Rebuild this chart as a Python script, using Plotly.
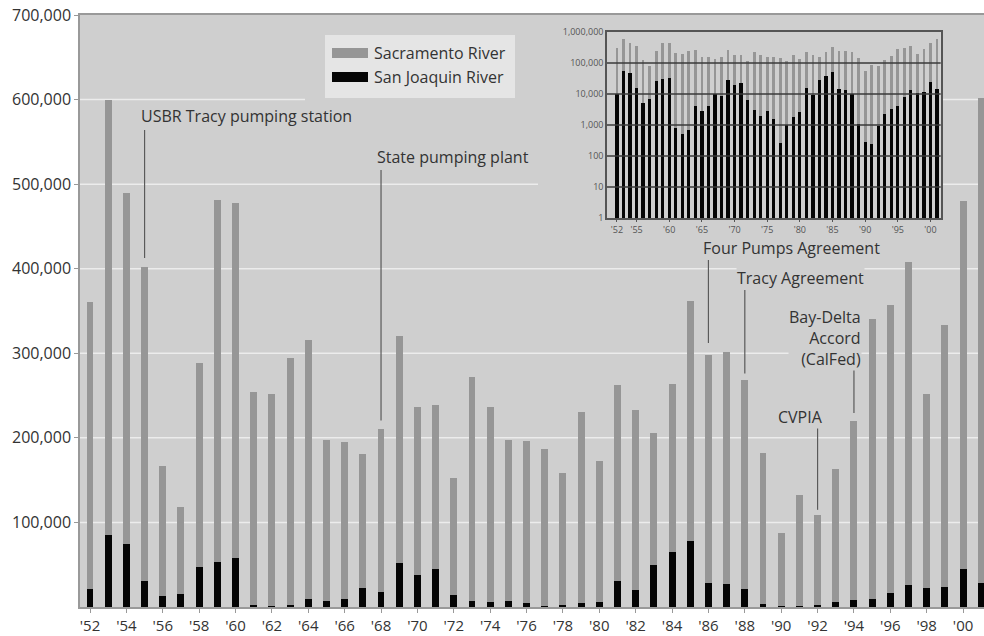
import plotly.graph_objects as go

# ---------------- data ----------------
years = list(range(1952, 2002))

sacramento = [361000, 599000, 489000, 402000, 167000, 118000, 288000, 481000, 478000, 254000,
              252000, 295000, 316000, 197000, 195000, 181000, 210000, 321000, 236000, 239000,
              153000, 272000, 236000, 197000, 196000, 187000, 159000, 230000, 173000, 263000,
              233000, 206000, 264000, 362000, 298000, 301000, 269000, 182000, 87000, 132000,
              109000, 163000, 220000, 340000, 357000, 408000, 252000, 333000, 480000, 602000]

san_joaquin = [21700, 84700, 74900, 31000, 13000, 15000, 47000, 53000, 57500, 1800,
               600, 1500, 10000, 7000, 9000, 22500, 18000, 51600, 37400, 44500,
               13800, 7000, 5500, 7000, 4300, 300, 2400, 4300, 6000, 30700,
               20000, 49700, 64600, 78000, 28000, 26800, 20900, 3500, 300, 250,
               2400, 6000, 8300, 9500, 16000, 26000, 22000, 24000, 44500, 28700]

# values as drawn in the log-scale inset
sacramento_inset = [305000, 590000, 440000, 365000, 128000, 78000, 240000, 430000, 430000, 205000,
                    200000, 240000, 263000, 152000, 152000, 134000, 152000, 270000, 180000, 180000,
                    113000, 220000, 180000, 152000, 152000, 140000, 113000, 180000, 134000, 220000,
                    180000, 152000, 220000, 318000, 248000, 248000, 220000, 140000, 56000, 86000,
                    78000, 125000, 172000, 280000, 295000, 365000, 196000, 280000, 430000, 590000]

san_joaquin_inset = [10000, 54000, 46000, 16000, 5100, 6900, 27000, 30000, 34000, 790,
                     500, 710, 4200, 2900, 4000, 10000, 8400, 29000, 19000, 23000,
                     6200, 3000, 2000, 2900, 1600, 270, 1000, 1800, 2700, 16000,
                     9500, 28000, 39000, 50000, 14500, 13500, 10000, 1080, 285, 240,
                     950, 2300, 3400, 4000, 7800, 13500, 10500, 12000, 24000, 14500]

x_tick_years = years[:-1:2]
x_tick_labels = ["'" + str(y)[2:] for y in x_tick_years]
y_tick_vals = [100000, 200000, 300000, 400000, 500000, 600000, 700000]
y_tick_labels = [f"{v:,}" for v in y_tick_vals]

inset_x_ticks = [1952, 1955, 1960, 1965, 1970, 1975, 1980, 1985, 1990, 1995, 2000]
inset_x_labels = ["'" + str(y)[2:] for y in inset_x_ticks]
inset_y_ticks = [1, 10, 100, 1000, 10000, 100000, 1000000]
inset_y_labels = [f"{v:,}" for v in inset_y_ticks]

series_names = ["Sacramento River", "San Joaquin River"]

callouts = [  # year, label
    (1955, "USBR Tracy pumping station"),
    (1968, "State pumping plant"),
    (1986, "Four Pumps Agreement"),
    (1988, "Tracy Agreement"),
    (1994, "Bay-Delta<br>Accord<br>(CalFed)"),
    (1992, "CVPIA"),
]

# ---------------- style ----------------
W, H = 984, 636
ML, MR, MT, MB = 80, 0, 15, 29
PW, PH = W - ML - MR, H - MT - MB
BG = "rgb(207,207,207)"
GRID = "rgb(236,236,236)"
GRAY = "rgb(150,150,150)"
BLACK = "rgb(5,5,5)"
TXT = "#333333"
FONT = "Open Sans"


def px_x(px):
    return (px - ML) / PW


def px_y(py):
    return (H - MB - py) / PH


def data_y(py):
    return (H - MB - py) / PH * 700000


fig = go.Figure()

fig.add_trace(go.Bar(x=years, y=sacramento, name=series_names[0], width=0.38,
                     marker=dict(color=GRAY, line=dict(width=0)), showlegend=False))
fig.add_trace(go.Bar(x=years, y=san_joaquin, name=series_names[1], width=0.38,
                     marker=dict(color=BLACK, line=dict(width=0)), showlegend=False))

fig.add_trace(go.Bar(x=years, y=sacramento_inset, name=series_names[0], width=0.42,
                     marker=dict(color=GRAY, line=dict(width=0)), showlegend=False,
                     xaxis="x2", yaxis="y2"))
fig.add_trace(go.Bar(x=years, y=san_joaquin_inset, name=series_names[1], width=0.5,
                     marker=dict(color=BLACK, line=dict(width=0)), showlegend=False,
                     xaxis="x2", yaxis="y2"))

shapes = []
# main gridlines (white), interrupted behind the legend and inset areas
grid_segments = {600000: [(80, 305), (943, 984)], 500000: [(80, 538), (943, 984)]}
for v in y_tick_vals[:-1]:
    for (a, b) in grid_segments.get(v, [(80, 984)]):
        shapes.append(dict(type="line", xref="paper", yref="y", x0=px_x(a), x1=px_x(b),
                           y0=v, y1=v, line=dict(color=GRID, width=1.5), layer="below"))
# inset background
shapes.append(dict(type="rect", xref="x2 domain", yref="y2 domain", x0=0, x1=1, y0=0, y1=1,
                   fillcolor="rgb(236,236,236)", line=dict(width=0), layer="below"))
# inset decade gridlines (drawn over bars)
for k in range(1, 6):
    shapes.append(dict(type="line", xref="x2 domain", yref="y2 domain", x0=0, x1=1,
                       y0=k / 6, y1=k / 6, line=dict(color="#3a3a3a", width=1.5), layer="above"))

# legend box and swatches
shapes.append(dict(type="rect", xref="paper", yref="paper", x0=px_x(325), x1=px_x(515),
                   y0=px_y(98), y1=px_y(35), fillcolor="rgb(229,229,229)", line=dict(width=0),
                   layer="above"))
for i, col in enumerate([GRAY, BLACK]):
    cy = 53 + 24 * i
    shapes.append(dict(type="rect", xref="paper", yref="paper", x0=px_x(332), x1=px_x(368),
                       y0=px_y(cy + 5), y1=px_y(cy - 5), fillcolor=col, line=dict(width=0),
                       layer="above"))

# callout leader lines
callout_tops = {1955: 130, 1968: 170, 1986: 260, 1988: 290, 1994: 368, 1992: 427}
callout_gaps = {1955: 9, 1968: 9, 1986: 12, 1988: 6, 1994: 8, 1992: 5}
for yr, _ in callouts:
    v = sacramento[years.index(yr)]
    shapes.append(dict(type="line", xref="x", yref="y", x0=yr, x1=yr,
                       y0=v + callout_gaps[yr] / PH * 700000, y1=data_y(callout_tops[yr]),
                       line=dict(color="#5a5a5a", width=1.2), layer="above"))

annotations = []
for i, name in enumerate(series_names):
    annotations.append(dict(xref="paper", yref="paper", x=px_x(372), y=px_y(53 + 24 * i),
                            text=name, showarrow=False, xanchor="left", yanchor="middle",
                            font=dict(family=FONT, size=16, color=TXT)))

text_pos = {  # (x px, y px, anchor)
    1955: (140, 116, "left"),
    1968: (376, 157, "left"),
    1986: (702, 248, "left"),
    1988: (736, 278, "left"),
    1994: (862, 338, "right"),
    1992: (777, 417, "left"),
}
for yr, label in callouts:
    px, py, anc = text_pos[yr]
    annotations.append(dict(xref="paper", yref="paper", x=px_x(px), y=px_y(py), text=label,
                            showarrow=False, xanchor=anc, yanchor="middle", align=anc,
                            bgcolor=BG, borderpad=0,
                            font=dict(family=FONT, size=16, color=TXT)))

fig.update_layout(
    template="none",
    width=W, height=H,
    margin=dict(l=ML, r=MR, t=MT, b=MB, pad=0, autoexpand=False),
    paper_bgcolor="white", plot_bgcolor=BG,
    barmode="overlay", bargap=0,
    showlegend=False,
    shapes=shapes, annotations=annotations,
    font=dict(family=FONT, color=TXT),
    xaxis=dict(domain=[0, 1], range=[1951.45, 2001.15], tickvals=x_tick_years,
               ticktext=x_tick_labels, ticks="outside", ticklen=4, tickcolor="#999",
               showline=True, linecolor="#999", linewidth=1.5, mirror=True, automargin=False,
               showgrid=False, zeroline=False, tickfont=dict(size=15, color=TXT)),
    yaxis=dict(domain=[0, 1], range=[0, 700000], tickvals=y_tick_vals, ticktext=y_tick_labels,
               ticks="outside", ticklen=4, tickcolor="#999", showline=True, linecolor="#999",
               linewidth=1.5, showgrid=False, automargin=False,
               zeroline=False, tickfont=dict(size=16, color=TXT)),
    xaxis2=dict(domain=[px_x(607), px_x(940.7)], anchor="y2", range=[1950.47, 2001.57],
                tickvals=inset_x_ticks, ticktext=inset_x_labels, ticks="outside", ticklen=2,
                tickcolor="#555", showline=True, mirror=True, linecolor="#555", linewidth=1.5,
                showgrid=False, zeroline=False, automargin=False,
                tickfont=dict(size=9, color="#555")),
    yaxis2=dict(domain=[px_y(218), px_y(32)], anchor="x2", type="log", range=[0, 6],
                tickvals=inset_y_ticks, ticktext=inset_y_labels, ticks="", showline=True,
                mirror=True, linecolor="#555", linewidth=1.5, showgrid=False, zeroline=False,
                automargin=False, tickfont=dict(size=9, color="#555")),
)

fig.write_html("out.html", config={"displayModeBar": False},
               post_script="document.body.style.margin='0';")
